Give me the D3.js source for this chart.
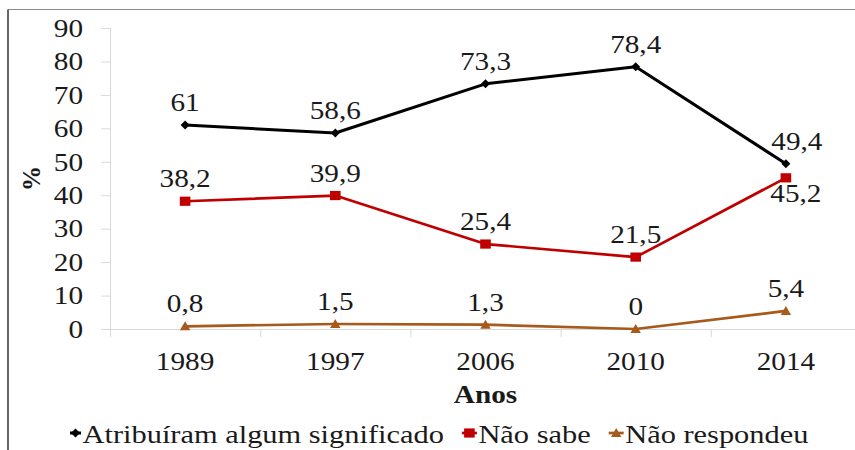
<!DOCTYPE html>
<html>
<head>
<meta charset="utf-8">
<script src="https://cdn.jsdelivr.net/npm/d3@7"></script>
<style>
  html, body { margin: 0; padding: 0; background: #fff; }
  svg { display: block; }
</style>
</head>
<body>
<div id="chart"></div>
<script>
// ---- data ----
const years = ["1989", "1997", "2006", "2010", "2014"];
const seriesNames = ["Atribuíram algum significado", "Não sabe", "Não respondeu"];
const atribuiram = [61, 58.6, 73.3, 78.4, 49.4];
const naoSabe = [38.2, 39.9, 25.4, 21.5, 45.2];
const naoRespondeu = [0.8, 1.5, 1.3, 0, 5.4];
const yTicks = [0, 10, 20, 30, 40, 50, 60, 70, 80, 90];

const width = 855, height = 450;
const S = 1.17;        // the source picture is stretched sideways
const fontSize = 25;
const serif = "'Liberation Serif', Tinos, 'Times New Roman', Times, serif";

const svg = d3.select("#chart").append("svg")
    .attr("width", width).attr("height", height)
    .attr("viewBox", [0, 0, width, height])
    .attr("font-family", serif);

svg.append("rect").attr("width", width).attr("height", height).attr("fill", "#fff");

// chart frame (runs off the right and bottom of the picture)
svg.append("line").attr("x1", 8).attr("x2", width).attr("y1", 9.5).attr("y2", 9.5)
    .attr("stroke", "#8c8c8c").attr("stroke-width", 1.2);
svg.append("line").attr("x1", 8).attr("x2", 8).attr("y1", 9.5).attr("y2", height)
    .attr("stroke", "#404040").attr("stroke-width", 1.6);

const plot = { left: 110, right: 861, top: 28, bottom: 329 };

const x = d3.scaleBand().domain(years).range([plot.left, plot.right]).padding(0);
const cx = d => x(d) + x.bandwidth() / 2;
const y = d3.scaleLinear().domain([0, 90]).range([plot.bottom, plot.top]);

// put a stretched text at (px, py)
function placeText(sel, px, py) {
    return sel.attr("transform", `translate(${px},${py}) scale(${S},1)`)
        .style("font-family", serif).attr("fill", "#1a1a1a");
}

// ---- axes ----
const axisColor = "#d9d9d9";
const yAxis = svg.append("g").attr("transform", `translate(${plot.left},0)`)
    .call(d3.axisLeft(y).tickValues(yTicks).tickSize(9).tickFormat(""));
yAxis.select(".domain").remove();
yAxis.selectAll(".tick line").attr("stroke", axisColor);
svg.append("line").attr("x1", plot.left + 0.5).attr("x2", plot.left + 0.5)
    .attr("y1", y(90)).attr("y2", plot.bottom + 8).attr("stroke", axisColor);

yTicks.forEach(t => {
    placeText(svg.append("text"), 83, y(t))
        .attr("text-anchor", "end").attr("dy", "0.35em")
        .attr("font-size", fontSize).text(t);
});

// x axis line and tick marks at band edges
svg.append("line").attr("x1", plot.left).attr("x2", plot.right)
    .attr("y1", plot.bottom + 0.5).attr("y2", plot.bottom + 0.5).attr("stroke", axisColor);
years.forEach(yr => {
    const xe = x(yr) + x.bandwidth();
    svg.append("line").attr("x1", xe + 0.5).attr("x2", xe + 0.5)
        .attr("y1", plot.bottom).attr("y2", plot.bottom + 8).attr("stroke", axisColor);
    placeText(svg.append("text"), cx(yr), 370)
        .attr("text-anchor", "middle").attr("font-size", fontSize).text(yr);
});

// axis titles
placeText(svg.append("text"), (plot.left + plot.right) / 2, 403)
    .attr("text-anchor", "middle").attr("font-size", fontSize).attr("font-weight", "bold")
    .text("Anos");
svg.append("text")
    .attr("transform", `translate(40,${(plot.top + plot.bottom) / 2}) rotate(-90)`)
    .style("font-family", serif).attr("fill", "#1a1a1a")
    .attr("text-anchor", "middle").attr("font-size", fontSize).attr("font-weight", "bold")
    .text("%");

// ---- series ----
const diamond = "M0,-4.5L4.5,0L0,4.5L-4.5,0Z";
const square = "M-5.3,-4.6H5.3V4.6H-5.3Z";
const triangle = "M0,-5L5.2,4L-5.2,4Z";

const series = [
    { name: seriesNames[0], values: atribuiram, color: "#000000", marker: diamond, width: 3, labelPos: ["above", "above", "above", "above", "above"] },
    { name: seriesNames[1], values: naoSabe, color: "#c00000", marker: square, width: 2.7, labelPos: ["above", "above", "above", "above", "below"] },
    { name: seriesNames[2], values: naoRespondeu, color: "#a65a1c", marker: triangle, width: 2.7, labelPos: ["above", "above", "above", "above", "above"] }
];
// labels Excel nudged sideways at the last year
const labelNudge = { "0-4": 11, "1-4": 10 };

const line = d3.line().x((d, i) => cx(years[i])).y(d => y(d));
const fmt = v => String(v).replace(".", ",");

series.forEach((s, si) => {
    svg.append("path").datum(s.values).attr("d", line)
        .attr("fill", "none").attr("stroke", s.color).attr("stroke-width", s.width)
        .attr("stroke-linejoin", "round");
    svg.append("g").selectAll("path").data(s.values).join("path")
        .attr("d", s.marker)
        .attr("transform", (d, i) => `translate(${cx(years[i])},${y(d)})`)
        .attr("fill", s.color);
    s.values.forEach((v, i) => {
        const below = s.labelPos[i] === "below";
        const dx = labelNudge[`${si}-${i}`] || 0;
        placeText(svg.append("text"), cx(years[i]) + dx, y(v) + (below ? 24 : -14))
            .attr("text-anchor", "middle").attr("font-size", fontSize).text(fmt(v));
    });
});

// ---- legend ----
let lx = 70;
const ly = 433;
series.forEach(s => {
    const g = svg.append("g");
    const stub = s.marker === diamond ? 11 : 15;
    g.append("line").attr("x1", lx).attr("x2", lx + stub).attr("y1", ly).attr("y2", ly)
        .attr("stroke", s.color).attr("stroke-width", s.width);
    g.append("path").attr("d", s.marker)
        .attr("transform", `translate(${lx + stub / 2},${ly})`).attr("fill", s.color);
    const t = placeText(g.append("text"), lx + stub + 1.5, 443)
        .attr("font-size", 26).text(s.name);
    lx += stub + 1.5 + t.node().getComputedTextLength() * S + 18;
});
</script>
</body>
</html>
